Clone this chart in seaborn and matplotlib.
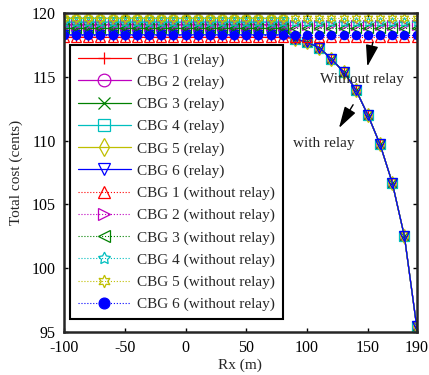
import numpy as np
import pandas as pd
import matplotlib
matplotlib.use('Agg')
import matplotlib.pyplot as plt
import seaborn as sns

# x grid (m)
rx = [-100, -90, -80, -70, -60, -50, -40, -30, -20, -10, 0, 10, 20, 30, 40,
      50, 60, 70, 80, 90, 100, 110, 120, 130, 140, 150, 160, 170, 180, 190]

# flat cost level of each CBG (cents)
cbg_names = ['CBG 1', 'CBG 2', 'CBG 3', 'CBG 4', 'CBG 5', 'CBG 6']
flat_cost = [118.1, 119.1, 118.8, 119.3, 119.6, 118.3]
# with relay: cost drop for Rx = 90..190
relay_tail = [118.0, 117.7, 117.3, 116.4, 115.4, 114.0, 112.0, 109.7, 106.7, 102.5, 95.5]

colors = ['r', 'm', 'g', 'c', 'y', 'b']
relay_markers = ['+', 'o', 'x', 's', 'd', 'v']
norelay_markers = ['^', '>', '<', (5, 1, 0), (6, 1, 0), 'o']

n_flat = len(rx) - len(relay_tail)

sns.set_style('ticks')
plt.rcParams['font.family'] = ['Liberation Serif', 'DejaVu Serif']
plt.rcParams['font.size'] = 11
plt.rcParams['axes.unicode_minus'] = False

fig = plt.figure(figsize=(4.29, 3.75), dpi=100)
ax = fig.add_axes([0.149, 0.115, 0.822, 0.85])

# 有中继
for i, name in enumerate(cbg_names):
    y = [flat_cost[i]] * n_flat + relay_tail
    sns.lineplot(x=rx, y=y, ax=ax, color=colors[i], marker=relay_markers[i],
                 markersize=7, markerfacecolor='none', markeredgecolor=colors[i],
                 markeredgewidth=0.9, linewidth=0.9, label=name + ' (relay)')
# 无中继
for i, name in enumerate(cbg_names):
    y = [flat_cost[i]] * len(rx)
    filled = (i == 5)
    sns.lineplot(x=rx, y=y, ax=ax, color=colors[i], marker=norelay_markers[i],
                 markersize=6 if filled else 7,
                 markerfacecolor=colors[i] if filled else 'none',
                 markeredgecolor=colors[i], markeredgewidth=0.9,
                 linewidth=0.8, linestyle=':', label=name + ' (without relay)')

ax.set_xlim(-100, 190)
ax.set_ylim(95, 120)
ax.set_xticks([-100, -50, 0, 50, 100, 150, 190])
ax.set_yticks([95, 100, 105, 110, 115, 120])
ax.tick_params(direction='in', top=True, right=True, length=3, width=1, labelsize=11.5,
               colors='k', pad=6)
for sp in ax.spines.values():
    sp.set_linewidth(1.8)
    sp.set_visible(True)
ax.set_xlabel('Rx (m)', fontsize=11, labelpad=2)
ax.set_ylabel('Total cost (cents)', fontsize=11, labelpad=6)

leg = ax.legend(loc='upper left', bbox_to_anchor=(0.017, 0.90), borderaxespad=0,
                fontsize=11, handlelength=3.5, handletextpad=0.4, labelspacing=0.55,
                markerscale=1.3, fancybox=False, framealpha=1, edgecolor='k',
                borderpad=0.5)
leg.get_frame().set_linewidth(1.5)

ax.annotate('', xy=(149, 115.6), xytext=(154.5, 117.9),
            arrowprops=dict(arrowstyle='-|>,head_length=1.2,head_width=0.35', color='k', lw=1))
ax.text(145, 114.8, 'Without relay', ha='center', va='center', fontsize=11)
ax.annotate('', xy=(125, 110.8), xytext=(139, 113.0),
            arrowprops=dict(arrowstyle='-|>,head_length=1.2,head_width=0.35', color='k', lw=1))
ax.text(114, 109.8, 'with relay', ha='center', va='center', fontsize=11)

fig.savefig('out.png', dpi=100)
